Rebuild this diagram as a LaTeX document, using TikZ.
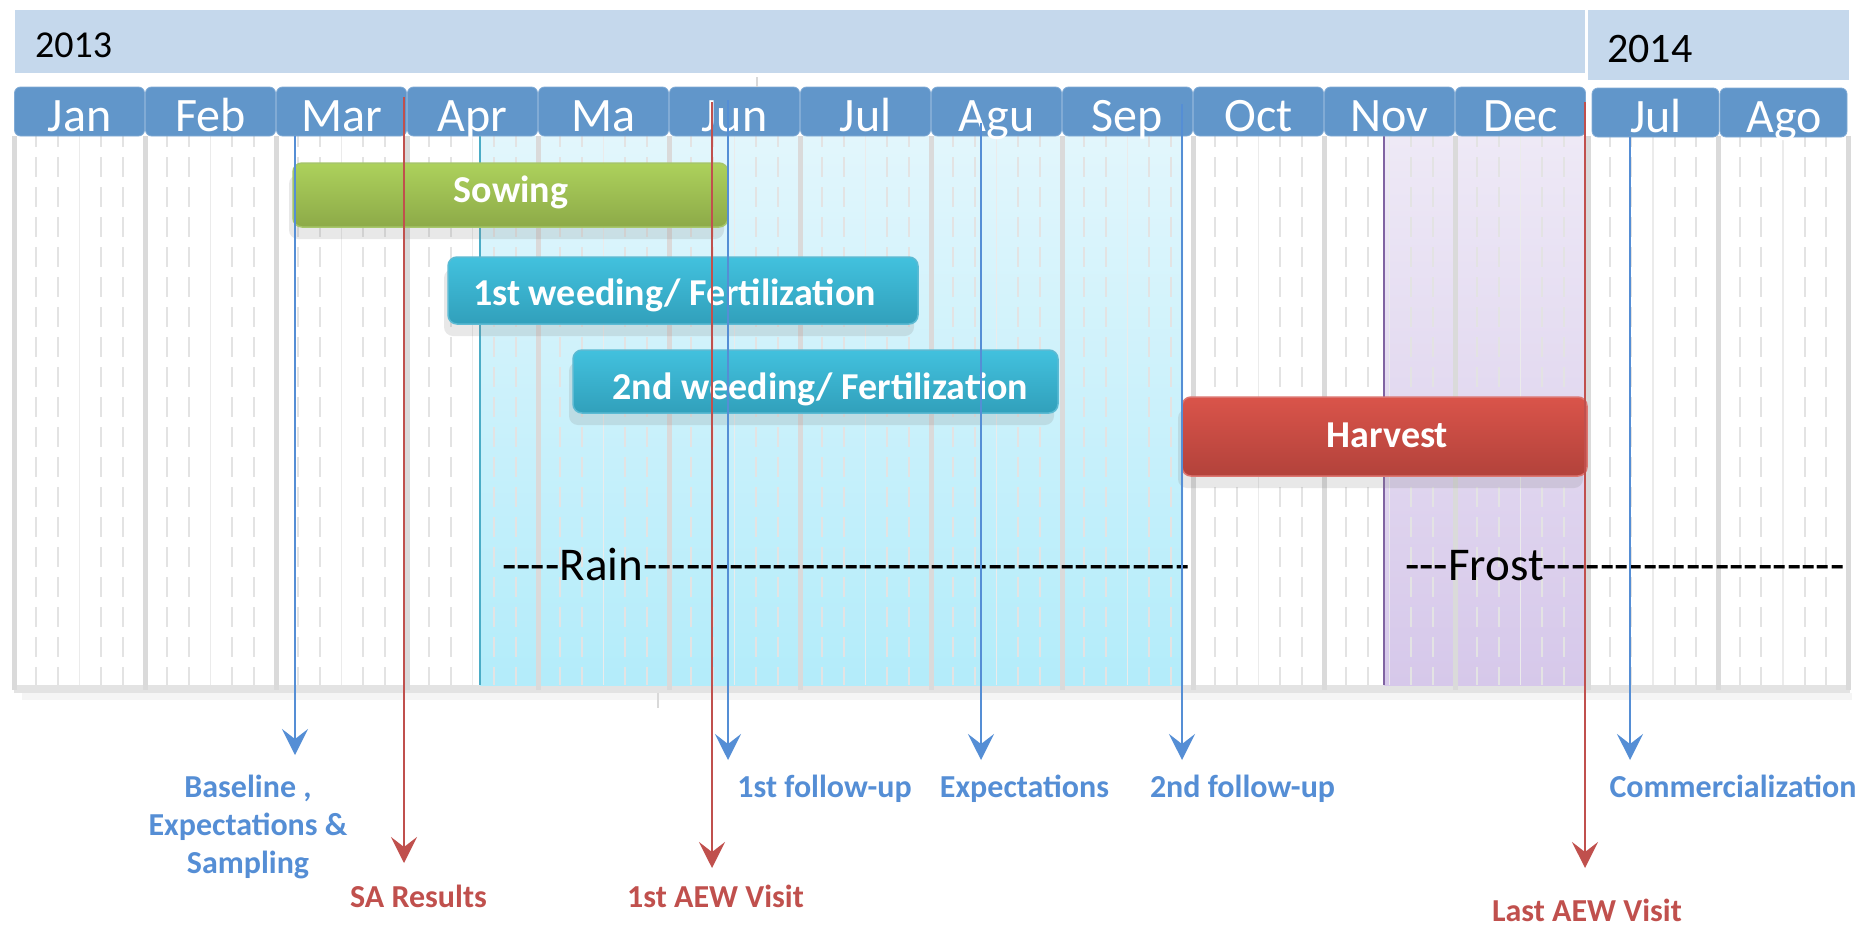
\documentclass[tikz,border=0pt]{standalone}
\usepackage{fontspec}
\setmainfont{Carlito}[Ligatures=TeXOff]
\usetikzlibrary{arrows.meta,shadows}

\definecolor{yearbar}{HTML}{C5D8EC}
\definecolor{monthblue}{HTML}{6196CA}
\definecolor{gridgray}{HTML}{DADADA}
\definecolor{raintop}{HTML}{E2F6FC}
\definecolor{rainbot}{HTML}{B3ECFA}
\definecolor{rainedge}{HTML}{4BACC6}
\definecolor{frosttop}{HTML}{EEE9F6}
\definecolor{frostbot}{HTML}{D6C8EA}
\definecolor{frostedge}{HTML}{8064A2}
\definecolor{sowtop}{HTML}{ADD15C}
\definecolor{sowbot}{HTML}{8DAA48}
\definecolor{sowedge}{HTML}{A6C66A}
\definecolor{weedtop}{HTML}{42C1DE}
\definecolor{weedbot}{HTML}{31A0BB}
\definecolor{weededge}{HTML}{5BBAD3}
\definecolor{harvtop}{HTML}{DA544A}
\definecolor{harvbot}{HTML}{B2423B}
\definecolor{harvedge}{HTML}{DC7570}
\definecolor{evblue}{HTML}{558ED5}
\definecolor{evred}{HTML}{C0504D}

\tikzset{
  monthbox/.style={fill=monthblue, draw=monthblue!80!white, line width=0.8pt, rounded corners=6pt},
  monthtxt/.style={text=white, inner sep=0pt, anchor=base, font=\fontsize{48}{50}\selectfont},
  yeartxt/.style={inner sep=0pt, anchor=base west, font=\fontsize{38}{40}\selectfont},
  divider/.style={draw=gridgray, line width=5pt},
  subdash/.style={draw=gray!22, line width=2pt, dash pattern=on 20pt off 10pt, dash phase=9pt},
  submid/.style={draw=gray!16, line width=1.5pt},
  taskbar/.style={rounded corners=9pt, line width=1.5pt,
    drop shadow={opacity=0.18, shadow xshift=-4pt, shadow yshift=-12pt}},
  tasktxt/.style={text=white, inner sep=0pt, anchor=base, font=\bfseries\fontsize{38}{40}\selectfont},
  season/.style={inner sep=0pt, anchor=base west, font=\fontsize{47}{50}\selectfont},
  evtxt/.style={inner sep=0pt, anchor=base, align=center, font=\bfseries\fontsize{32}{38}\selectfont},
  evarrow/.style={line width=2pt, -{Stealth[length=26pt, width=26pt, inset=10pt]}}
}

\begin{document}
\begin{tikzpicture}[x=1pt, y=-1pt]
  \useasboundingbox (0,0) rectangle (1865,926);

  %%%%% YEARS %%%%%
  \fill[yearbar] (15,10) rectangle (1585,73);
  \fill[yearbar] (1588,10) rectangle (1849,80);
  \node[yeartxt] (y2013) at (35,57) {2013};
  \node[yeartxt, font=\fontsize{42}{44}\selectfont] (y2014) at (1607,62) {2014};

  %%%%% PANEL %%%%%
  \fill[white] (14,136) rectangle (1850,685);
  \fill[gray!8] (22,693) rectangle (1852,700);
  \fill[gray!22] (14,685) rectangle (1850,693);

  % rain and frost seasons
  \shade[top color=raintop, bottom color=rainbot] (480,136) rectangle (1183,685);
  \shade[top color=frosttop, bottom color=frostbot] (1384,136) rectangle (1586,685);
  \draw[rainedge, line width=1.5pt] (480,136) -- (480,685);
  \draw[frostedge, line width=1.5pt] (1384,136) -- (1384,685);

  %%%%% MONTHS 2013 %%%%%
  \foreach \m [count=\i from 0] in {Jan,Feb,Mar,Apr,Ma,Jun,Jul,Agu,Sep,Oct,Nov,Dec} {
    \pgfmathsetmacro\xa{14+131*\i}
    \foreach \k in {1,2,4,5}
      \draw[subdash] ({\xa+131*\k/6},136) -- ({\xa+131*\k/6},685);
    \draw[submid] ({\xa+65.5},136) -- ({\xa+65.5},685);
    \draw[divider] (\xa,136) -- (\xa,690);
    \draw[monthbox] ({\xa+0.5},87) rectangle ({\xa+130.5},136);
    \node[monthtxt] (mon\i) at ({\xa+65.5},131) {\m};
  }

  %%%%% MONTHS 2014 %%%%%
  \foreach \m [count=\j from 0] in {Jul,Ago} {
    \pgfmathsetmacro\xa{1588+130*\j}
    \pgfmathsetmacro\xb{1592+128*\j}
    \foreach \k in {1,2,4,5}
      \draw[subdash] ({\xa+130*\k/6},136) -- ({\xa+130*\k/6},685);
    \draw[submid] ({\xa+65},136) -- ({\xa+65},685);
    \draw[divider] (\xa,136) -- (\xa,690);
    \draw[monthbox] (\xb,88) rectangle ({\xb+127},137);
    \node[monthtxt] (nxt\j) at ({\xb+64},132) {\m};
  }
  \draw[divider] (1848,136) -- (1848,690);

  \draw[gray!30, line width=1.5pt] (757,77) -- (757,87);
  \draw[gray!30, line width=1.5pt] (658,693) -- (658,708);

  %%%%% TASKS %%%%%
  \draw[taskbar, draw=sowedge, top color=sowtop, bottom color=sowbot] (293,163) rectangle (728,227);
  \node[tasktxt] (sowing) at (511,202) {Sowing};

  \draw[taskbar, draw=weededge, top color=weedtop, bottom color=weedbot] (448,257) rectangle (918,324);
  \node[tasktxt] (weed1) at (674.5,305) {1st weeding/ Fertilization};

  \draw[taskbar, draw=weededge, top color=weedtop, bottom color=weedbot] (573,350) rectangle (1058,413);
  \node[tasktxt] (weed2) at (820.5,399) {2nd weeding/ Fertilization};

  \draw[taskbar, draw=harvedge, top color=harvtop, bottom color=harvbot] (1182,397) rectangle (1587,476);
  \node[tasktxt] (harvest) at (1387.5,447) {Harvest};

  \node[season] (rain) at (502,580) {----Rain--------------------------------------};
  \node[season] (frost) at (1405,580) {---Frost---------------------};

  %%%%% EVENTS %%%%%
  \coordinate (baseTop) at (295,136);  \coordinate (baseTip) at (295,755);
  \coordinate (saTop) at (404,97);     \coordinate (saTip) at (404,863);
  \coordinate (aewTop) at (712,102);   \coordinate (aewTip) at (712,868);
  \coordinate (fuTop) at (728,100);    \coordinate (fuTip) at (728,760);
  \coordinate (expTop) at (981,123);   \coordinate (expTip) at (981,760);
  \coordinate (fuiiTop) at (1182,104); \coordinate (fuiiTip) at (1182,760);
  \coordinate (lastTop) at (1585,102); \coordinate (lastTip) at (1585,868);
  \coordinate (comTop) at (1630,137);  \coordinate (comTip) at (1630,760);

  \draw[evarrow, evblue] (baseTop) -- (baseTip);
  \draw[evarrow, evred] (saTop) -- (saTip);
  \draw[evarrow, evred] (aewTop) -- (aewTip);
  \draw[evarrow, evblue] (fuTop) -- (fuTip);
  \draw[evarrow, evblue] (expTop) -- (expTip);
  \draw[evarrow, evblue] (fuiiTop) -- (fuiiTip);
  \draw[evarrow, evred] (lastTop) -- (lastTip);
  \draw[evarrow, evblue] (comTop) -- (comTip);

  % base anchor of a multi-line node is its last line
  \node[evtxt, evblue] (baseLbl) at (248,873) {Baseline ,\\Expectations \&\\Sampling};
  \node[evtxt, evred] (saLbl) at (418.5,907) {SA Results};
  \node[evtxt, evred] (aewLbl) at (715.5,907) {1st AEW Visit};
  \node[evtxt, evblue] (fuLbl) at (824.5,797) {1st follow-up};
  \node[evtxt, evblue] (expLbl) at (1024.5,797) {Expectations};
  \node[evtxt, evblue] (fuiiLbl) at (1242.5,797) {2nd follow-up};
  \node[evtxt, evred] (lastLbl) at (1587,921) {Last AEW Visit};
  \node[evtxt, evblue] (comLbl) at (1733,797) {Commercialization};
\end{tikzpicture}
\end{document}
